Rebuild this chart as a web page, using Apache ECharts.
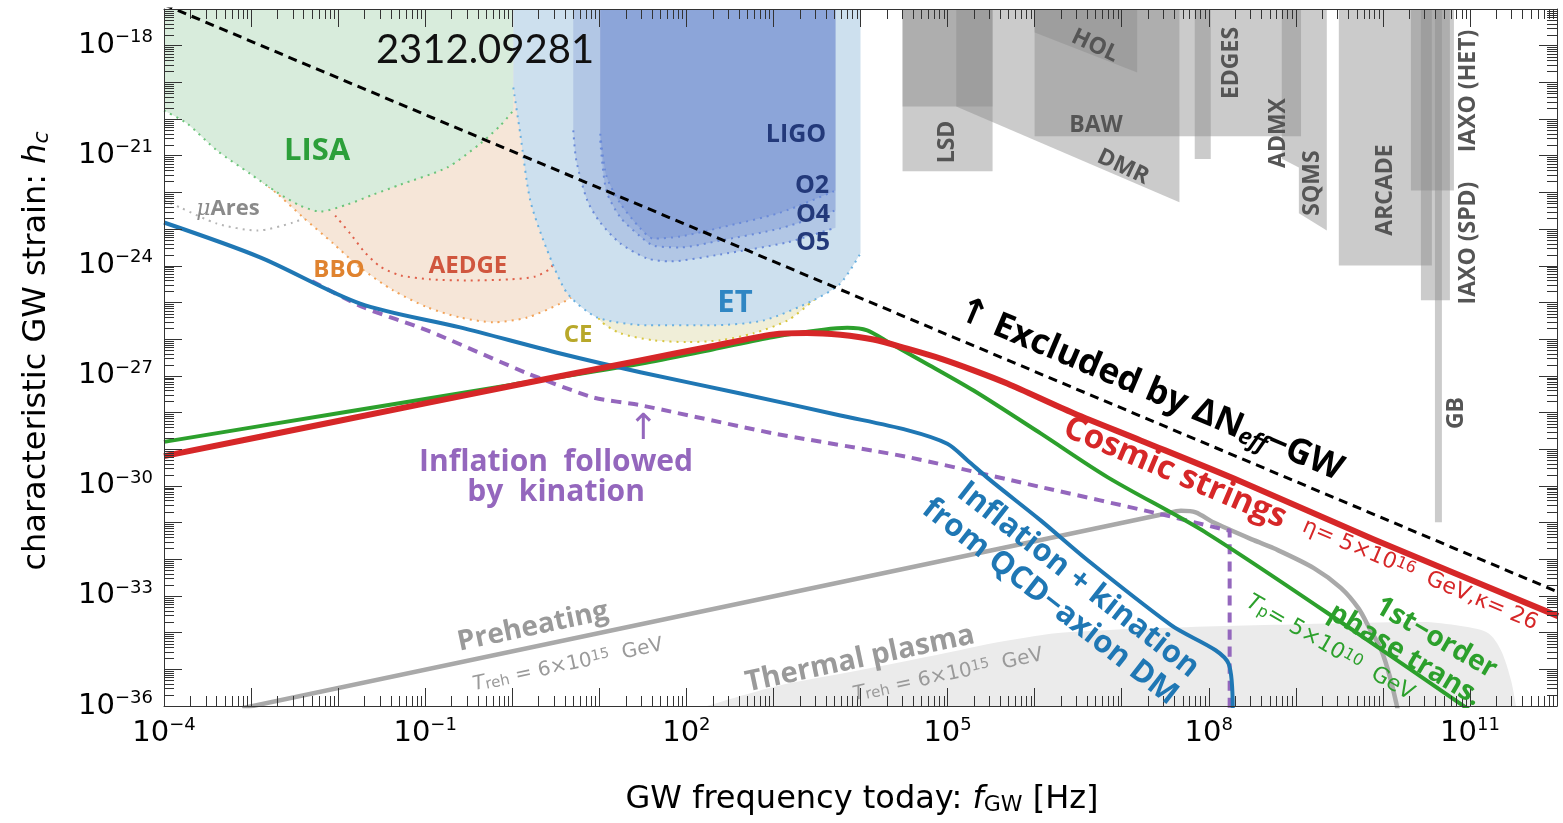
<!DOCTYPE html>
<html>
<head>
<meta charset="utf-8">
<title>Gravitational-wave spectra and detector sensitivities</title>
<script src="https://cdn.jsdelivr.net/npm/echarts@6.0.0/dist/echarts.min.js"></script>
<style>
html, body { margin: 0; padding: 0; background: #fff; }
#chart { width: 1563px; height: 823px; }
</style>
</head>
<body>
<div id="chart"></div>
<script>
// Every curve point is [log10(f_GW / Hz), log10(h_c)].

// Decades that carry a "10^n" tick label
const xLabelExponents = [-4, -1, 2, 5, 8, 11];
const yLabelExponents = [-36, -33, -30, -27, -24, -21, -18];

// Detector sensitivity curves (each region is filled up to the top of the plot)
const lisaCurve = [[-4.0,-19.77],[-3.736,-20.12],[-3.391,-20.86],[-3.011,-21.49],[-2.701,-22.00],[-2.437,-22.36],[-2.207,-22.52],[-1.896,-22.33],[-1.598,-22.06],[-1.287,-21.79],[-0.747,-21.32],[-0.368,-20.67],[-0.138,-20.18],[0.012,-19.77]];
const muAresCurve = [[-4.0,-22.22],[-3.816,-22.41],[-3.391,-22.85],[-2.931,-23.04],[-2.517,-22.82],[-2.322,-22.60],[-2.092,-22.08]];
const bboCurve = [[-3.2,-20.90],[-2.874,-21.68],[-2.701,-22.03],[-2.402,-22.68],[-2.057,-23.39],[-1.747,-24.05],[-1.368,-24.67],[-0.977,-25.13],[-0.598,-25.41],[-0.218,-25.54],[0.172,-25.41],[0.552,-25.03],[0.724,-24.78],[0.897,-24.13],[1.046,-22.76],[1.149,-20.86],[1.195,-18.41]];
const aedgeCurve = [[-2.034,-22.63],[-1.862,-23.12],[-1.690,-23.64],[-1.517,-24.02],[-1.287,-24.26],[-0.942,-24.37],[-0.483,-24.40],[-0.023,-24.37],[0.264,-24.29],[0.437,-24.07],[0.552,-23.58],[0.667,-22.49]];
const ceCurve = [[0.805,-22.22],[0.920,-24.94],[1.011,-25.49],[1.241,-25.84],[1.621,-26.03],[2.012,-26.08],[2.391,-26.03],[2.770,-25.84],[3.161,-25.49],[3.460,-24.94],[3.621,-24.54],[3.828,-23.58],[3.943,-20.86]];
const etCurve = [[0.012,-19.14],[0.092,-20.40],[0.207,-22.22],[0.402,-23.58],[0.632,-24.75],[0.977,-25.41],[1.552,-25.62],[2.310,-25.62],[2.885,-25.49],[3.460,-24.94],[3.770,-24.48],[4.0,-23.66]];
const ligoO5Curve = [[0.701,-20.31],[0.736,-21.13],[0.862,-22.22],[1.011,-22.82],[1.241,-23.39],[1.552,-23.80],[1.816,-23.88],[2.391,-23.69],[3.161,-23.36],[3.713,-22.96]];
const ligoO4Curve = [[1.011,-20.59],[1.080,-21.95],[1.241,-22.68],[1.471,-23.20],[1.621,-23.45],[1.931,-23.50],[2.391,-23.31],[3.080,-22.98],[3.713,-22.49]];
const ligoO2Curve = [[1.011,-20.40],[1.080,-21.54],[1.241,-22.30],[1.471,-22.98],[1.621,-23.26],[1.931,-23.20],[2.391,-22.96],[3.080,-22.55],[3.713,-21.95]];

// Lower edges of the high-frequency probe bounds (grey bands, open to the top)
const lsdBound = [[4.483,-21.42],[5.517,-21.42]];
const lsdUpperBound = [[4.483,-19.66],[5.517,-19.66]];
const dmrBound = [[5.10,-19.66],[7.663,-22.27]];
const holBound = [[6.0,-17.64],[7.178,-18.73]];
const bawBound = [[6.0,-20.47],[9.06,-20.47]];
const edgesBound = [[7.839,-21.09],[8.023,-21.09]];
const admxSqmsBound = [[8.839,-21.08],[9.035,-21.32],[9.035,-22.57],[9.356,-23.04]];
const arcadeBound = [[9.494,-23.99],[10.563,-23.99]];
const iaxoHetBound = [[10.322,-21.95],[10.816,-21.95]];
const iaxoSpdBound = [[10.437,-24.94],[10.770,-24.94]];
const gbBound = [[10.598,-30.99],[10.678,-30.99]];

// Predicted signals
const dNeffBound = [[-4,-16.88],[12,-32.88]];
const cosmicStrings = [[-4,-29.19],[-2,-28.23],[0,-27.27],[1.471,-26.58],[2.238,-26.22],[3.0,-25.87],[3.387,-25.83],[3.770,-25.88],[4.149,-26.01],[4.537,-26.26],[4.920,-26.53],[5.299,-26.85],[5.686,-27.21],[6.448,-28.02],[7.218,-28.76],[8.368,-29.88],[9.897,-31.46],[12.012,-33.55]];
const phaseTransition = [[-4,-28.80],[-2,-28.02],[0,-27.24],[1.471,-26.67],[2.3,-26.28],[3.0,-25.94],[3.575,-25.74],[3.847,-25.69],[4.077,-25.76],[4.345,-26.12],[4.724,-26.62],[5.299,-27.40],[6.069,-28.57],[6.836,-29.76],[7.985,-31.30],[9.709,-34.02],[11.05,-36.2]];
const axionKination = [[-4,-22.82],[-2.896,-23.77],[-1.747,-25.03],[-0.598,-25.68],[0.552,-26.39],[1.471,-26.90],[2.621,-27.48],[3.770,-28.08],[4.537,-28.48],[4.997,-28.85],[5.226,-29.30],[5.494,-29.85],[6.069,-30.94],[6.606,-32.02],[7.563,-33.79],[8.230,-34.86],[8.276,-36.2]];
const inflationKination = [[-2.3,-24.42],[-1.713,-25.13],[-0.977,-25.76],[0.172,-26.93],[0.931,-27.59],[1.471,-27.80],[3.004,-28.57],[4.537,-29.21],[6.069,-30.03],[7.410,-30.75],[8.215,-31.21],[8.24,-31.22],[8.24,-36.2]];
const preheating = [[-3.1,-36.06],[7.5,-30.76],[7.68,-30.68],[7.85,-30.72],[8.058,-31.0],[8.517,-31.48],[8.747,-31.70],[9.207,-32.24],[9.517,-32.78],[9.72,-33.34],[9.85,-33.90],[9.977,-34.45],[10.08,-35.2],[10.18,-36.2]];
const thermalPlasma = [[2.1,-36.1],[3.0,-35.48],[4.0,-35.02],[4.770,-34.66],[5.529,-34.28],[6.069,-34.07],[6.299,-34.00],[7.333,-33.88],[9.058,-33.77],[10.437,-33.71],[10.897,-33.82],[11.207,-34.01],[11.356,-34.48],[11.471,-35.29],[11.529,-36.0]];

const NUM_FONT = "'DejaVu Sans', sans-serif";
const LABEL_FONT = "'Open Sans', 'Noto Sans', sans-serif";
const TAG_FONT = "Lato, 'Open Sans', sans-serif";

function expText(n) { return n < 0 ? '\u2212' + (-n) : String(n); }

// Series are stacked in the order they are listed
let layer = 1;
function region(name, data, fill, dot) {
  return { name, type: 'line', z: layer++, data, symbol: 'none', smooth: 0.25, silent: true,
    lineStyle: { color: dot, width: 2, type: [2, 5] },
    areaStyle: { color: fill, opacity: 1, origin: 'end' } };
}
function dotted(name, data, color) {
  return { name, type: 'line', z: layer++, data, symbol: 'none', smooth: 0.25, silent: true,
    lineStyle: { color, width: 2, type: [2, 5] } };
}
function band(name, data) {
  return { name, type: 'line', z: layer++, data, symbol: 'none', silent: true,
    lineStyle: { width: 0, opacity: 0 },
    areaStyle: { color: 'rgba(140,140,140,0.45)', opacity: 1, origin: 'end' } };
}
function spectrum(name, data, color, width, dash, smooth) {
  return { name, type: 'line', z: layer++, data, symbol: 'none', smooth: smooth, silent: true,
    lineStyle: { color, width, type: dash || 'solid', cap: 'butt', join: 'round' } };
}

// Minor ticks at 2..9 x 10^n on all four sides
const minorTicks = [];
for (let n = -4; n < 12; n++) for (let k = 2; k <= 9; k++) minorTicks.push([n + Math.log10(k), -36, 0]);
for (let n = -36; n < -17; n++) for (let k = 2; k <= 9; k++) minorTicks.push([-4, n + Math.log10(k), 1]);

function minorTickItem(params, api) {
  const cs = params.coordSys;
  const p = api.coord([api.value(0), api.value(1)]);
  const L = 10, st = { stroke: '#333', lineWidth: 1 };
  if (api.value(2) === 0) {
    const x = Math.round(p[0]) + 0.5;
    return { type: 'group', children: [
      { type: 'line', shape: { x1: x, y1: cs.y + cs.height, x2: x, y2: cs.y + cs.height - L }, style: st },
      { type: 'line', shape: { x1: x, y1: cs.y, x2: x, y2: cs.y + L }, style: st } ] };
  }
  const y = Math.round(p[1]) + 0.5;
  return { type: 'group', children: [
    { type: 'line', shape: { x1: cs.x, y1: y, x2: cs.x + L, y2: y }, style: st },
    { type: 'line', shape: { x1: cs.x + cs.width, y1: y, x2: cs.x + cs.width - L, y2: y }, style: st } ] };
}

const tickRich = {
  b: { fontFamily: NUM_FONT, fontSize: 29, color: '#000', lineHeight: 34 },
  s: { fontFamily: NUM_FONT, fontSize: 18, color: '#000', verticalAlign: 'top', lineHeight: 22 }
};
function axisBase(extra) {
  return Object.assign({
    type: 'value', z: 60, splitLine: { show: false },
    axisLine: { show: true, onZero: false, lineStyle: { color: '#333', width: 1 } },
    axisTick: { show: true, inside: true, length: 18, lineStyle: { color: '#333', width: 1 } }
  }, extra);
}

// Annotation text
function txt(x, y, deg, text, style, rich) {
  return { type: 'text', x, y, rotation: deg * Math.PI / 180, silent: true, z: 100,
    style: Object.assign({ text, align: 'center', verticalAlign: 'middle', rich }, style) };
}
function plain(size, color, weight, family) {
  return { fontSize: size, fill: color, fontWeight: weight || 'normal', fontFamily: family || LABEL_FONT };
}
function r(size, color, weight, family, extra) {
  return Object.assign({ fontSize: size, color, fontWeight: weight || 'normal', fontFamily: family || LABEL_FONT }, extra || {});
}

const probeStyle = plain(23, '#555', 'bold');
const ligoStyle = plain(25, '#23397a', 'bold');
const grey = '#9a9a9a';

const treh = (sz) => ({
  n: r(sz, grey, 'normal', NUM_FONT),
  i: r(sz, grey, 'normal', NUM_FONT, { fontStyle: 'italic' }),
  sub: r(sz * 0.75, grey, 'normal', NUM_FONT, { verticalAlign: 'bottom' }),
  sup: r(sz * 0.72, grey, 'normal', NUM_FONT, { verticalAlign: 'top' })
});
const trehText = '{i|T}{sub|reh}{n| = 6\u00d710}{sup|15}{n|  GeV}';

const elements = [
  txt(485, 50, 0, '2312.09281', plain(40, '#111', 'normal', TAG_FONT)),
  txt(317, 151, 0, 'LISA', plain(31, '#2c9f3a', 'bold')),
  txt(228, 209, 0, '{m|\u03bc}{a|Ares}', plain(22, '#8a8a8a', 'bold'), {
    m: r(22, '#8a8a8a', 'normal', "'DejaVu Serif', serif", { fontStyle: 'italic' }),
    a: r(22, '#8a8a8a', 'bold', LABEL_FONT) }),
  txt(339, 270, 0, 'BBO', plain(24, '#e0832f', 'bold')),
  txt(468, 266, 0, 'AEDGE', plain(24, '#d0563e', 'bold')),
  txt(578, 335, 0, 'CE', plain(24, '#b8a82a', 'bold')),
  txt(735, 303, 0, 'ET', plain(31, '#2f86c3', 'bold')),
  txt(796, 135, 0, 'LIGO', ligoStyle),
  txt(812, 186, 0, 'O2', ligoStyle),
  txt(813, 215, 0, 'O4', ligoStyle),
  txt(813, 243, 0, 'O5', ligoStyle),
  txt(947, 142, 90, 'LSD', probeStyle),
  txt(1095, 46, -25, 'HOL', probeStyle),
  txt(1096, 125, 0, 'BAW', probeStyle),
  txt(1123, 167, -25, 'DMR', probeStyle),
  txt(1231, 63, 90, 'EDGES', probeStyle),
  txt(1278, 133, 90, 'ADMX', probeStyle),
  txt(1312, 183, 90, 'SQMS', probeStyle),
  txt(1385, 190, 90, 'ARCADE', probeStyle),
  txt(1468, 243, 90, 'IAXO (SPD)', probeStyle),
  txt(1468, 91, 90, 'IAXO (HET)', probeStyle),
  txt(1456, 413, 90, 'GB', probeStyle),
  txt(1150, 390, -23, '{u|\u2191}{a| Excluded by \u0394N}{s|eff}{a|\u2212GW}', plain(35, '#000', 'bold'), {
    u: r(36, '#000', 'bold', NUM_FONT),
    a: r(35, '#000', 'bold'), s: r(23, '#000', 'bold', LABEL_FONT, { fontStyle: 'italic', verticalAlign: 'bottom' }) }),
  txt(1175, 473, -23, 'Cosmic strings', plain(33, '#d62728', 'bold')),
  txt(1420, 575, -23, '{a|\u03b7= 5\u00d710}{s|16}{a|  GeV,\u03ba= 26}', plain(22, '#d62728', 'normal', NUM_FONT), {
    a: r(22, '#d62728', 'normal', NUM_FONT), s: r(16, '#d62728', 'normal', NUM_FONT, { verticalAlign: 'top' }) }),
  txt(556, 462, 0, 'Inflation  followed', plain(30, '#9467bd', 'bold')),
  txt(556, 492, 0, 'by  kination', plain(30, '#9467bd', 'bold')),
  txt(643, 430, 0, '\u2191', plain(36, '#9467bd', 'normal', NUM_FONT)),
  txt(1078, 580, -38, 'Inflation + kination', plain(31, '#1f77b4', 'bold')),
  txt(1050, 602, -38, 'from QCD\u2212axion DM', plain(31, '#1f77b4', 'bold')),
  txt(1436, 638, -30, '1st\u2212order', plain(28, '#2ca02c', 'bold')),
  txt(1405, 655, -31, 'phase trans.', plain(28, '#2ca02c', 'bold')),
  txt(1330, 648, -30, '{i|T}{sub|p}{n|= 5\u00d710}{sup|10}{n|  GeV}', plain(22, '#2ca02c', 'normal', NUM_FONT), {
    n: r(22, '#2ca02c', 'normal', NUM_FONT), i: r(22, '#2ca02c', 'normal', NUM_FONT, { fontStyle: 'italic' }),
    sub: r(16, '#2ca02c', 'normal', NUM_FONT, { verticalAlign: 'bottom' }), sup: r(16, '#2ca02c', 'normal', NUM_FONT, { verticalAlign: 'top' }) }),
  txt(533, 627, 12, 'Preheating', plain(28, grey, 'bold')),
  txt(568, 665, 12, trehText, plain(20, grey, 'normal', NUM_FONT), treh(20)),
  txt(860, 659, 12, 'Thermal plasma', plain(29, grey, 'bold')),
  txt(948, 675, 12, trehText, plain(20, grey, 'normal', NUM_FONT), treh(20)),
  txt(862, 800, 0, '{n|GW frequency today: }{i|f}{s|GW}{n| [Hz]}', plain(32, '#000', 'normal', NUM_FONT), {
    n: r(32, '#000', 'normal', NUM_FONT), i: r(32, '#000', 'normal', NUM_FONT, { fontStyle: 'italic' }),
    s: r(22, '#000', 'normal', NUM_FONT, { verticalAlign: 'bottom' }) }),
  txt(37, 351, 90, '{n|characteristic GW strain: }{i|h}{s|c}', plain(32, '#000', 'normal', NUM_FONT), {
    n: r(32, '#000', 'normal', NUM_FONT), i: r(32, '#000', 'normal', NUM_FONT, { fontStyle: 'italic' }),
    s: r(22, '#000', 'normal', NUM_FONT, { fontStyle: 'italic', verticalAlign: 'bottom' }) })
];

const series = [
  { name: 'Thermal plasma', type: 'line', z: layer++, data: thermalPlasma, symbol: 'none', smooth: 0.3, silent: true,
    lineStyle: { width: 0, opacity: 0 }, areaStyle: { color: '#ebebeb', opacity: 1, origin: 'start' } },
  dotted('muAres', muAresCurve, '#b4b4b4'),
  region('BBO', bboCurve, '#f6e6d8', '#f2a257'),
  region('LISA', lisaCurve, '#d8ecdc', '#6cc47a'),
  dotted('AEDGE', aedgeCurve, '#e0604a'),
  region('CE', ceCurve, '#f0eed8', '#d8c640'),
  region('ET', etCurve, '#cde0ee', '#6ab0e0'),
  region('LIGO O5', ligoO5Curve, 'rgba(80,110,200,0.21)', '#6a8ad8'),
  region('LIGO O4', ligoO4Curve, 'rgba(80,110,200,0.21)', '#6a8ad8'),
  region('LIGO O2', ligoO2Curve, 'rgba(80,110,200,0.21)', '#6a8ad8'),
  band('LSD', lsdBound), band('LSD upper', lsdUpperBound), band('DMR', dmrBound), band('HOL', holBound),
  band('BAW', bawBound), band('EDGES', edgesBound), band('ADMX/SQMS', admxSqmsBound), band('ARCADE', arcadeBound),
  band('IAXO HET', iaxoHetBound), band('IAXO SPD', iaxoSpdBound), band('GB', gbBound),
  spectrum('Preheating', preheating, '#a9a9a9', 4.5, 'solid', 0.3),
  spectrum('Inflation followed by kination', inflationKination, '#9467bd', 4, [10, 7], 0.2),
  spectrum('1st-order phase transition', phaseTransition, '#2ca02c', 4, 'solid', 0.3),
  spectrum('Inflation + kination from QCD-axion DM', axionKination, '#1f77b4', 4, 'solid', 0.3),
  spectrum('Cosmic strings', cosmicStrings, '#d62728', 6, 'solid', 0.3),
  spectrum('Delta N_eff bound', dNeffBound, '#000', 3, [9, 6], false),
  { name: 'minor ticks', type: 'custom', silent: true, z: 60, clip: false, data: minorTicks,
    encode: { x: 0, y: 1 }, renderItem: minorTickItem }
];

const option = {
  animation: false,
  backgroundColor: '#ffffff',
  grid: { left: 164, right: 6, top: 9, bottom: 117, outerBoundsMode: 'none' },
  xAxis: [
    axisBase({ min: -4, max: 12, interval: 1, position: 'bottom',
      axisLabel: { margin: 10, rich: tickRich,
        formatter: v => xLabelExponents.indexOf(Math.round(v)) >= 0 && Math.abs(v - Math.round(v)) < 1e-6 ? '{b|10}{s|' + expText(Math.round(v)) + '}' : '' } }),
    axisBase({ min: -4, max: 12, interval: 1, position: 'top', axisLabel: { show: false } })
  ],
  yAxis: [
    axisBase({ min: -36, max: -17, interval: 1, position: 'left',
      axisLabel: { margin: 11, align: 'right', rich: tickRich,
        formatter: v => yLabelExponents.indexOf(Math.round(v)) >= 0 && Math.abs(v - Math.round(v)) < 1e-6 ? '{b|10}{s|' + expText(Math.round(v)) + '}' : '' } }),
    axisBase({ min: -36, max: -17, interval: 1, position: 'right', axisLabel: { show: false } })
  ],
  series,
  graphic: { elements }
};

const chart = echarts.init(document.getElementById('chart'), null, { renderer: 'canvas' });
chart.setOption(option);
</script>
</body>
</html>
